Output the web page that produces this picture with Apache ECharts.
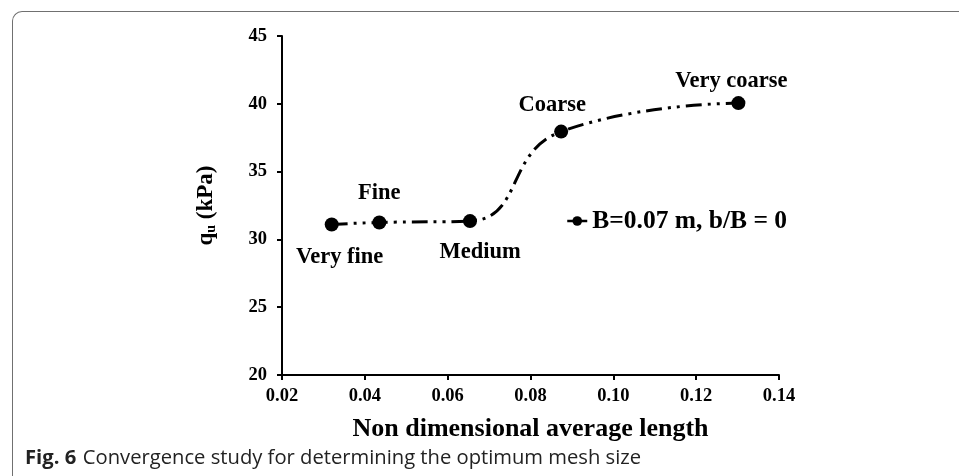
<!DOCTYPE html>
<html>
<head>
<meta charset="utf-8">
<script src="https://cdn.jsdelivr.net/npm/echarts@6/dist/echarts.min.js"></script>
<style>
  html, body { margin: 0; padding: 0; background: #fff; }
  #wrap { position: relative; width: 959px; height: 476px; }
  #chart { width: 959px; height: 476px; }
  #frame {
    position: absolute; left: 12px; top: 11px; width: 960px; height: 480px;
    border-top: 1.6px solid #707070; border-left: 1.6px solid #707070;
    border-top-left-radius: 10px; pointer-events: none; box-sizing: border-box;
  }
</style>
</head>
<body>
<div id="wrap">
  <div id="chart"></div>
  <div id="frame"></div>
</div>
<script>
// Mesh refinement levels and the bearing capacity obtained for each
const meshNames = ['Very fine', 'Fine', 'Medium', 'Coarse', 'Very coarse'];
const avgLength = [0.032, 0.0435, 0.0654, 0.0874, 0.1302];
const quValues = [31.1, 31.25, 31.35, 37.95, 40.05];
const seriesName = 'B=0.07 m, b/B = 0';
const xTicks = [0.02, 0.04, 0.06, 0.08, 0.10, 0.12, 0.14];
const yTicks = [20, 25, 30, 35, 40, 45];

const serif = '"Liberation Serif", "Times New Roman", serif';
const sans = '"Open Sans", "Noto Sans", sans-serif';

// label placement around each marker (pixel offsets from the marker centre)
const labelOffsets = [[8, 33], [0, -29], [10, 31], [-9, -26], [-7, -22]];

const points = avgLength.map((x, i) => ({
  name: meshNames[i],
  value: [x, quValues[i]],
  label: { offset: labelOffsets[i] }
}));

const chart = echarts.init(document.getElementById('chart'), null, { renderer: 'canvas' });

chart.setOption({
  animation: false,
  backgroundColor: '#ffffff',
  grid: { left: 282, top: 36, right: 180, bottom: 101, containLabel: false },
  xAxis: {
    type: 'value',
    min: xTicks[0],
    max: xTicks[xTicks.length - 1],
    interval: 0.02,
    name: 'Non dimensional average length',
    nameLocation: 'middle',
    nameGap: 41,
    nameTextStyle: { fontFamily: serif, fontWeight: 'bold', fontSize: 26, color: '#000' },
    axisLine: { show: true, lineStyle: { color: '#000', width: 2 } },
    axisTick: { show: true, inside: false, length: 5, lineStyle: { color: '#000', width: 2 } },
    axisLabel: {
      fontFamily: serif, fontWeight: 'bold', fontSize: 18.5, color: '#000', margin: 12,
      formatter: v => v.toFixed(2)
    },
    splitLine: { show: false }
  },
  yAxis: {
    type: 'value',
    min: yTicks[0],
    max: yTicks[yTicks.length - 1],
    interval: 5,
    name: '{q|q}{sub|u}{q| (kPa)}',
    nameLocation: 'middle',
    nameGap: 64,
    nameRotate: 90,
    nameTextStyle: {
      color: '#000',
      rich: {
        q: { fontFamily: serif, fontWeight: 'bold', fontSize: 23, color: '#000' },
        sub: { fontFamily: serif, fontWeight: 'bold', fontSize: 14, color: '#000', verticalAlign: 'bottom', padding: [10, 0, 0, 0] }
      }
    },
    axisLine: { show: true, lineStyle: { color: '#000', width: 2 } },
    axisTick: { show: true, inside: false, length: 5, lineStyle: { color: '#000', width: 2 } },
    axisLabel: { fontFamily: serif, fontWeight: 'bold', fontSize: 18.5, color: '#000', margin: 15 },
    splitLine: { show: false }
  },
  legend: {
    data: [seriesName],
    left: 561,
    top: 203,
    itemWidth: 20,
    itemHeight: 12,
    itemGap: 4,
    textStyle: { fontFamily: serif, fontWeight: 'bold', fontSize: 25.5, color: '#000' },
    lineStyle: { type: 'solid', width: 2.5 }
  },
  series: [{
    name: seriesName,
    type: 'line',
    data: points,
    smooth: 0.5,
    symbol: 'circle',
    symbolSize: 14,
    itemStyle: { color: '#000' },
    lineStyle: { color: '#000', width: 3, type: [16, 6, 3, 6, 3, 6] },
    label: {
      show: true,
      position: 'inside',
      formatter: p => p.name,
      fontFamily: serif,
      fontWeight: 'bold',
      fontSize: 22.5,
      color: '#000',
      align: 'center',
      verticalAlign: 'middle'
    }
  }],
  graphic: [
    {
      type: 'text',
      left: 25,
      top: 448,
      silent: true,
      style: {
        text: '{b|Fig. 6}  {r|Convergence study for determining the optimum mesh size}',
        rich: {
          b: { fontFamily: sans, fontWeight: 'bold', fontSize: 20.2, fill: '#222' },
          r: { fontFamily: sans, fontSize: 20.2, fill: '#222' }
        }
      }
    }
  ]
});
</script>
</body>
</html>
